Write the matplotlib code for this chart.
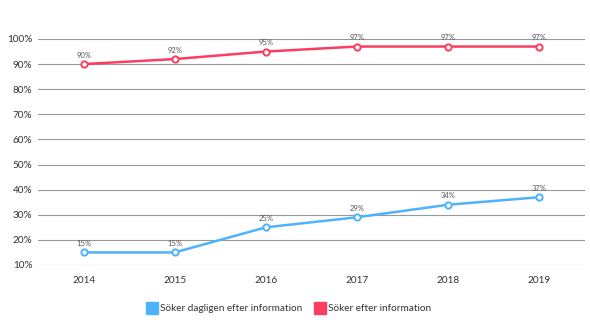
import matplotlib
matplotlib.use('Agg')
import matplotlib.pyplot as plt
from matplotlib.lines import Line2D

plt.rcParams['font.family'] = ['Lato', 'DejaVu Sans']

# data
years = ['2014', '2015', '2016', '2017', '2018', '2019']
daglig = [15, 15, 25, 29, 34, 37]
soker = [90, 92, 95, 97, 97, 97]
labels = ['Söker dagligen efter information', 'Söker efter information']
colors = ['#4eb3fb', '#fb3d62']

fig = plt.figure(figsize=(5.9, 3.35), dpi=100)
ax = fig.add_axes([0.0644, 0.209, 0.927, 0.6746])

x = range(len(years))
for vals, col in [(daglig, colors[0]), (soker, colors[1])]:
    ax.plot(x, vals, color=col, lw=1.8, marker='o', markersize=4.5,
            markerfacecolor='white', markeredgecolor=col, markeredgewidth=1.4, zorder=3)
    for i, v in zip(x, vals):
        ax.annotate(f'{v}%', (i, v), xytext=(0, 4), textcoords='offset points',
                    ha='center', va='bottom', fontsize=5.5, color='#555555')

ax.set_xlim(-0.5, len(years) - 0.5)
ax.set_ylim(10, 100)
ax.set_yticks(range(10, 101, 10))
ax.set_yticklabels([f'{t}%' for t in range(10, 101, 10)])
ax.set_xticks(list(x))
ax.set_xticklabels(years)
ax.tick_params(axis='both', length=0, labelsize=7.2, colors='#333333')
ax.tick_params(axis='x', pad=8)
ax.tick_params(axis='y', pad=4)
ax.grid(axis='y', color='#999999', lw=0.8)
ax.set_axisbelow(True)
for s in ax.spines.values():
    s.set_visible(False)

handles = [Line2D([0], [0], marker='s', color='none', markerfacecolor=c,
                  markeredgecolor=c, markersize=8) for c in colors]
fig.legend(handles, labels, loc='center', bbox_to_anchor=(0.49, 0.078), ncol=2,
           frameon=False, fontsize=7.2, handletextpad=0.3, columnspacing=1.2,
           handlelength=1.0, labelcolor='#333333')

fig.savefig('out.png', dpi=100)
